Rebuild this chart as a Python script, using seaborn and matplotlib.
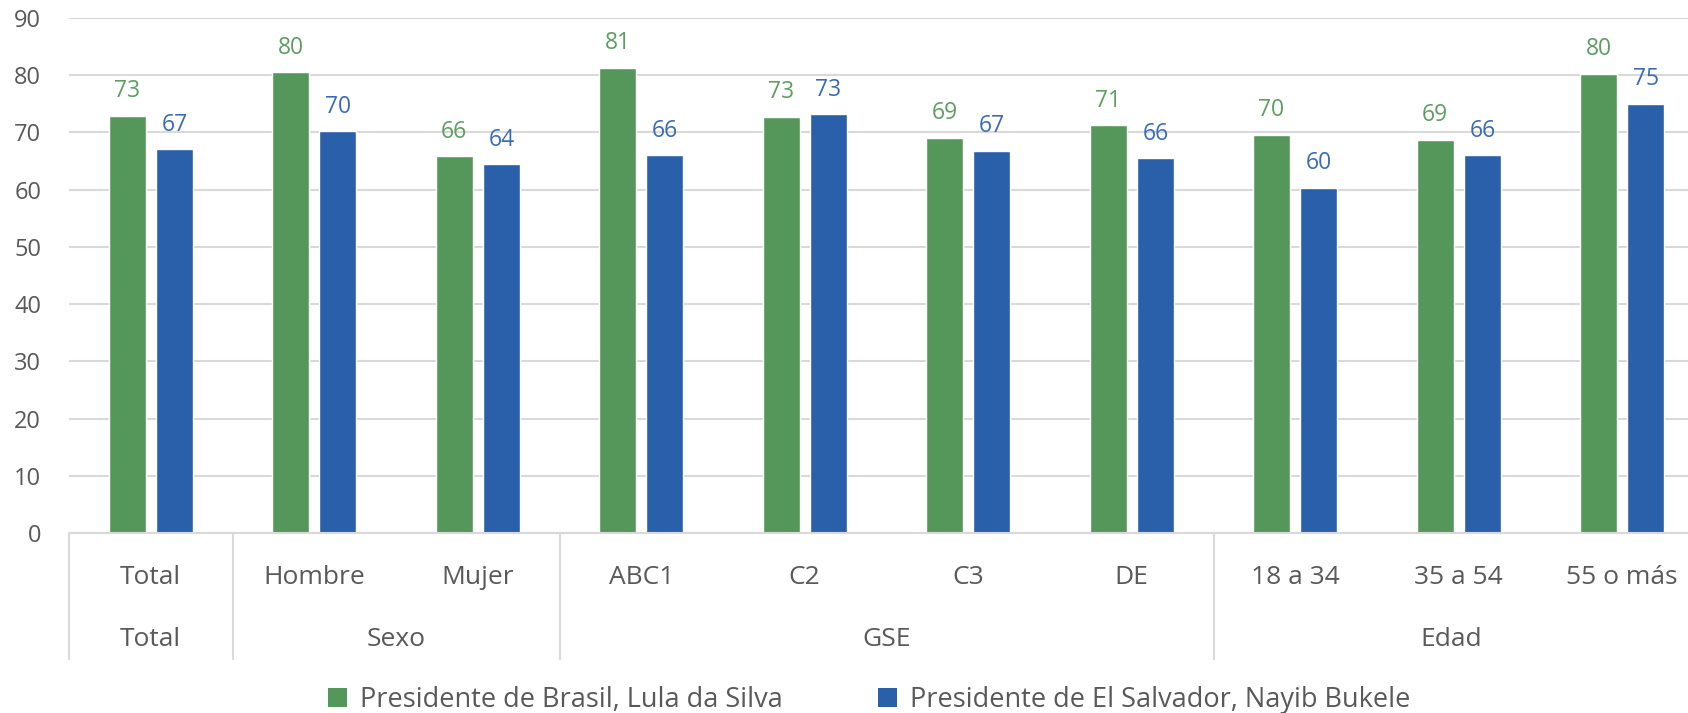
import matplotlib
matplotlib.use("Agg")
import matplotlib.pyplot as plt
import matplotlib.transforms as mtransforms
from matplotlib.patches import Patch
import seaborn as sns
import pandas as pd

categories = ["Total", "Hombre", "Mujer", "ABC1", "C2", "C3", "DE",
              "18 a 34", "35 a 54", "55 o más"]
groups = ["Total", "Sexo", "GSE", "Edad"]
group_sizes = [1, 2, 4, 3]
series = ["Presidente de Brasil, Lula da Silva",
          "Presidente de El Salvador, Nayib Bukele"]
lula = [72.9, 80.5, 65.8, 81.3, 72.7, 69.1, 71.3, 69.6, 68.7, 80.3]
bukele = [67.1, 70.2, 64.4, 66.0, 73.2, 66.8, 65.5, 60.3, 66.0, 75.0]

bar_colors = ["#55975A", "#2A5FA9"]
label_colors = ["#5E9E62", "#3A6CB3"]
text_gray = "#595959"
grid_gray = "#D9D9D9"

df = pd.DataFrame({
    "cat": categories * 2,
    "serie": [series[0]] * len(categories) + [series[1]] * len(categories),
    "valor": lula + bukele,
})

sns.set_style("white")
plt.rcParams["font.family"] = ["Open Sans", "DejaVu Sans"]

fig = plt.figure(figsize=(16.88, 7.13), dpi=100)
left_px = 69
ax = fig.add_axes([left_px / 1688, 1 - 533 / 713, 1 - left_px / 1688, (533 - 18) / 713])

sns.barplot(data=df, x="cat", y="valor", hue="serie", order=categories,
            hue_order=series, palette=bar_colors, width=0.58, gap=0.22,
            saturation=1, ax=ax, legend=False)

for cont, col in zip(ax.containers, label_colors):
    ax.bar_label(cont, labels=[f"{v:.0f}" for v in cont.datavalues],
                 padding=9, color=col, fontsize=16.5)

ax.set_ylim(0, 90)
ax.set_yticks(range(0, 91, 10))
ax.set_xlim(-0.5, -0.5 + (1688 - left_px) / 163.5)
ax.yaxis.grid(True, color=grid_gray, linewidth=1.5)
ax.set_axisbelow(True)
for s in ["top", "right", "left"]:
    ax.spines[s].set_visible(False)
ax.spines["bottom"].set_color(grid_gray)
ax.spines["bottom"].set_linewidth(1.5)
ax.tick_params(axis="y", length=0, pad=20, labelsize=17, labelcolor=text_gray)
ax.set_xticks([])
ax.set_xlabel("")
ax.set_ylabel("")

# etiquetas de dos niveles
trans = mtransforms.blended_transform_factory(ax.transData, ax.transAxes)
for i, c in enumerate(categories):
    ax.text(i, -0.087, c, transform=trans, ha="center", va="center",
            fontsize=19, color=text_gray, clip_on=False)

xmax = ax.get_xlim()[1]
start = -0.5
for g, n in zip(groups, group_sizes):
    end = start + n
    ax.plot([start, start], [0, -0.245], transform=trans, color=grid_gray,
            linewidth=1.5, clip_on=False)
    mid = (start + min(end, xmax)) / 2
    ax.text(mid, -0.206, g, transform=trans, ha="center", va="center",
            fontsize=19, color=text_gray, clip_on=False)
    start = end

handles = [Patch(facecolor=c, edgecolor="none") for c in bar_colors]
fig.legend(handles, series, loc="center", bbox_to_anchor=(0.515, 1 - 650 * 1.0765 / 713),
           ncol=2, frameon=False, fontsize=19.5, labelcolor=text_gray,
           handlelength=0.7, handleheight=0.7, handletextpad=0.5, columnspacing=3.5)

fig.savefig("out.png", dpi=100)
